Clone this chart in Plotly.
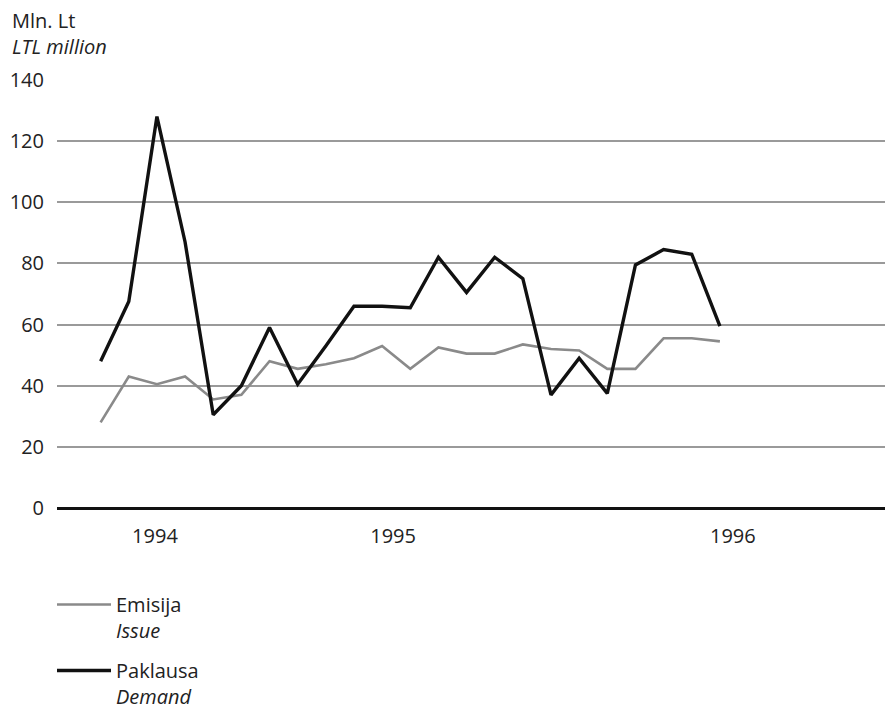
import plotly.graph_objects as go

# Monthly observations (index positions), values in LTL million
issue = [28, 43, 40.5, 43, 35.5, 37, 48, 45.5, 47, 49, 53,
         45.5, 52.5, 50.5, 50.5, 53.5, 52, 51.5, 45.5, 45.5, 55.5, 55.5, 54.5]
demand = [48, 67.5, 128, 87, 30.5, 40, 59, 40.5, 53, 66, 66,
          65.5, 82, 70.5, 82, 75, 37, 49, 37.5, 79.5, 84.5, 83, 59.5]
periods = list(range(len(demand)))
year_labels = ["1994", "1995", "1996"]
y_ticks = [0, 20, 40, 60, 80, 100, 120, 140]

FONT = "Open Sans"
FS = 20
TXT = "#222222"
# page body has an 8px margin; size the figure so it fills the 893x709 window
W, H = 885, 701
L, R, T, B = 49, 0, 71, 201
PH = H - T - B
PW = W - L - R


def fig_y(py):
    """figure pixel row (from top) -> paper y"""
    return (H - B - py) / PH


fig = go.Figure()
fig.add_trace(go.Scatter(
    x=periods, y=issue, mode="lines", name="Emisija<br><i>Issue</i>",
    legendgroup="issue",
    line=dict(color="#8a8a8a", width=2.6)))
fig.add_trace(go.Scatter(
    x=periods, y=demand, mode="lines", name="Paklausa<br><i>Demand</i>",
    legendgroup="demand",
    line=dict(color="#111111", width=3.4)))

fig.update_layout(
    width=W, height=H,
    margin=dict(l=L, r=R, t=T, b=B, pad=0),
    paper_bgcolor="white", plot_bgcolor="white",
    font=dict(family=FONT, size=FS, color=TXT),
    showlegend=True,
    xaxis=dict(
        range=[-1.55, 28.15], showgrid=False, zeroline=False, showline=False,
        automargin=False,
        tickmode="array", tickvals=[1.93, 10.39, 22.46], ticktext=year_labels,
        ticks="", ticklabelstandoff=14, tickfont=dict(size=FS, color=TXT)),
    yaxis=dict(
        range=[0, 140.3], tickmode="array", tickvals=y_ticks,
        automargin=False,
        showgrid=True, gridcolor="#9a9a9a", gridwidth=1.6,
        zeroline=True, zerolinecolor="#111111", zerolinewidth=3.2,
        showline=False, ticks="", ticklabelstandoff=12,
        tickfont=dict(size=FS, color=TXT)),
    legend=dict(
        x=-5 / PW, y=1 - 577 / H, xref="paper", yref="container",
        xanchor="left", yanchor="top", borderwidth=0,
        bgcolor="rgba(0,0,0,0)", tracegroupgap=11, itemwidth=54,
        font=dict(size=FS, color=TXT), valign="top"),
    annotations=[
        dict(text="Mln. Lt", xref="paper", yref="paper",
             x=-(L - 2) / PW, y=fig_y(13), xanchor="left", yanchor="middle",
             align="left", showarrow=False, font=dict(size=FS, color=TXT)),
        dict(text="<i>LTL million</i>", xref="paper", yref="paper",
             x=-(L - 2) / PW, y=fig_y(38), xanchor="left", yanchor="middle",
             align="left", showarrow=False, font=dict(size=FS, color=TXT)),
    ],
)

fig.write_html("out.html")
